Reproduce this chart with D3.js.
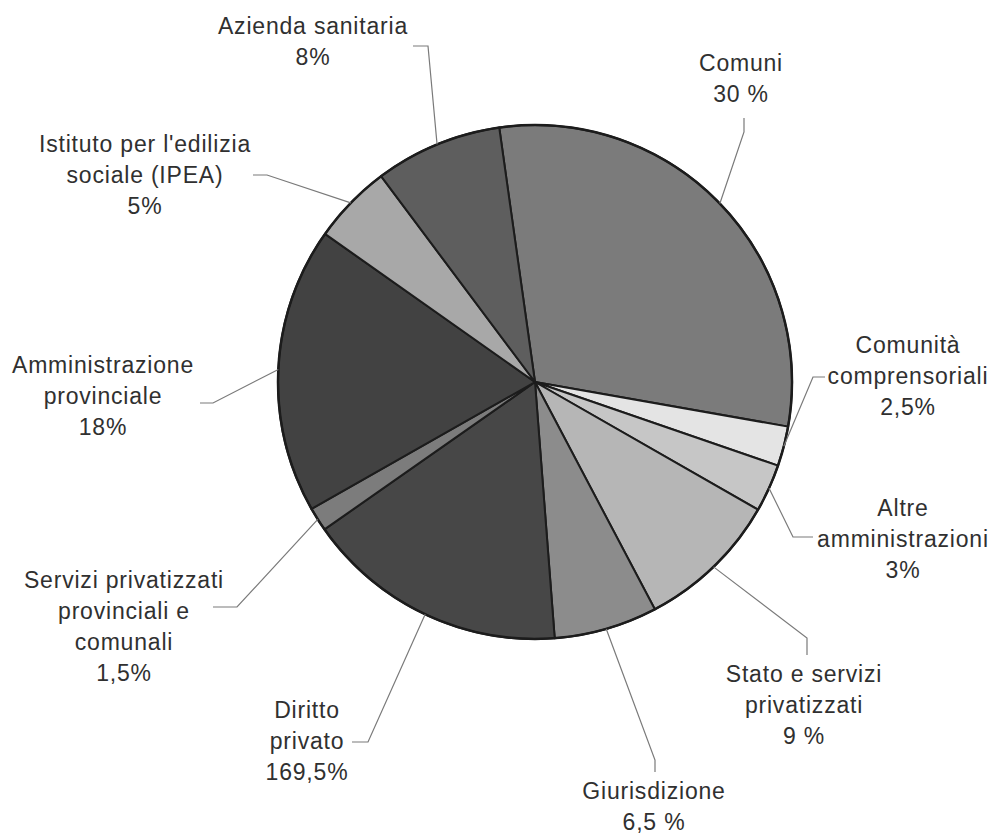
<!DOCTYPE html>
<html>
<head>
<meta charset="utf-8">
<script src="https://cdn.jsdelivr.net/npm/d3@7"></script>
<style>
  html, body { margin: 0; padding: 0; background: #ffffff; }
  svg { display: block; }
  .lbl { font-family: "Liberation Sans", Arial, "DejaVu Sans", sans-serif; font-size: 23px; letter-spacing: 0.8px; fill: #303030; }
</style>
</head>
<body>
<svg id="chart" width="993" height="836"></svg>
<script>
// Shares of employees by employer type (percent), clockwise from the top
const categories = [
  "Comuni", "Comunità comprensoriali", "Altre amministrazioni",
  "Stato e servizi privatizzati", "Giurisdizione", "Diritto privato",
  "Servizi privatizzati provinciali e comunali", "Amministrazione provinciale",
  "Istituto per l'edilizia sociale (IPEA)", "Azienda sanitaria"
];
const shares = [30, 2.5, 3, 9, 6.5, 16.5, 1.5, 18, 5, 8];

// Label text, split into lines, and the printed percentage
const labelLines = [
  ["Comuni"], ["Comunità", "comprensoriali"], ["Altre", "amministrazioni"],
  ["Stato e servizi", "privatizzati"], ["Giurisdizione"], ["Diritto", "privato"],
  ["Servizi privatizzati", "provinciali e", "comunali"], ["Amministrazione", "provinciale"],
  ["Istituto per l'edilizia", "sociale (IPEA)"], ["Azienda sanitaria"]
];
const valueLabels = ["30 %", "2,5%", "3%", "9 %", "6,5 %", "169,5%", "1,5%", "18%", "5%", "8%"];

// Grey fill per slice
const fills = ["#7b7b7b", "#e4e4e4", "#c6c6c6", "#b6b6b6", "#8c8c8c",
               "#474747", "#7c7c7c", "#424242", "#a8a8a8", "#5e5e5e"];

// Label placement: text centre x, first baseline y, and the two leader points
// nearest the text (the leader then runs to the slice edge)
const labelLayout = [
  { x: 741, y: 71,  lead: [[744, 118], [744, 132]] },
  { x: 908, y: 353, lead: [[825, 377], [813, 377]] },
  { x: 903, y: 516, lead: [[813, 537], [793, 537]] },
  { x: 804, y: 682, lead: [[807, 655], [807, 638]] },
  { x: 654, y: 799, lead: [[655, 772], [655, 760]] },
  { x: 307, y: 718, lead: [[352, 742], [368, 742]] },
  { x: 124, y: 588, lead: [[213, 607], [237, 607]] },
  { x: 103, y: 373, lead: [[200, 403], [213, 403]] },
  { x: 145, y: 152, lead: [[253, 175], [267, 175]] },
  { x: 313, y: 34,  lead: [[413, 46],  [428, 46]] }
];

const cx = 535, cy = 382, radius = 257, lineHeight = 31;
const offset = -8 * Math.PI / 180;

const svg = d3.select("#chart");
const g = svg.append("g").attr("transform", `translate(${cx},${cy})`);

const pie = d3.pie().sort(null).value(d => d)
  .startAngle(offset).endAngle(offset + 2 * Math.PI);
const arcs = pie(shares);

const arc = d3.arc().innerRadius(0).outerRadius(radius);
const rim = d3.arc().innerRadius(radius).outerRadius(radius);

g.selectAll("path.slice")
  .data(arcs)
  .join("path")
  .attr("class", "slice")
  .attr("d", arc)
  .attr("fill", (d, i) => fills[i])
  .attr("stroke", "#1c1c1c")
  .attr("stroke-width", 2)
  .attr("stroke-linejoin", "round");

g.append("circle")
  .attr("r", radius)
  .attr("fill", "none")
  .attr("stroke", "#1c1c1c")
  .attr("stroke-width", 2.5);

// Leader lines from each label to its slice edge
const line = d3.line();
svg.selectAll("path.leader")
  .data(arcs)
  .join("path")
  .attr("class", "leader")
  .attr("d", (d, i) => {
    const c = rim.centroid(d);
    const pts = labelLayout[i].lead.concat([[cx + c[0], cy + c[1]]]);
    return line(pts);
  })
  .attr("fill", "none")
  .attr("stroke", "#7a7a7a")
  .attr("stroke-width", 1.2);

// Labels
const labels = svg.selectAll("text.lbl")
  .data(categories)
  .join("text")
  .attr("class", "lbl")
  .attr("text-anchor", "middle");

labels.each(function (name, i) {
  const t = d3.select(this);
  const lines = labelLines[i].concat([valueLabels[i]]);
  lines.forEach((s, k) => {
    t.append("tspan")
      .attr("x", labelLayout[i].x)
      .attr("y", labelLayout[i].y + k * lineHeight)
      .text(s);
  });
});
</script>
</body>
</html>
